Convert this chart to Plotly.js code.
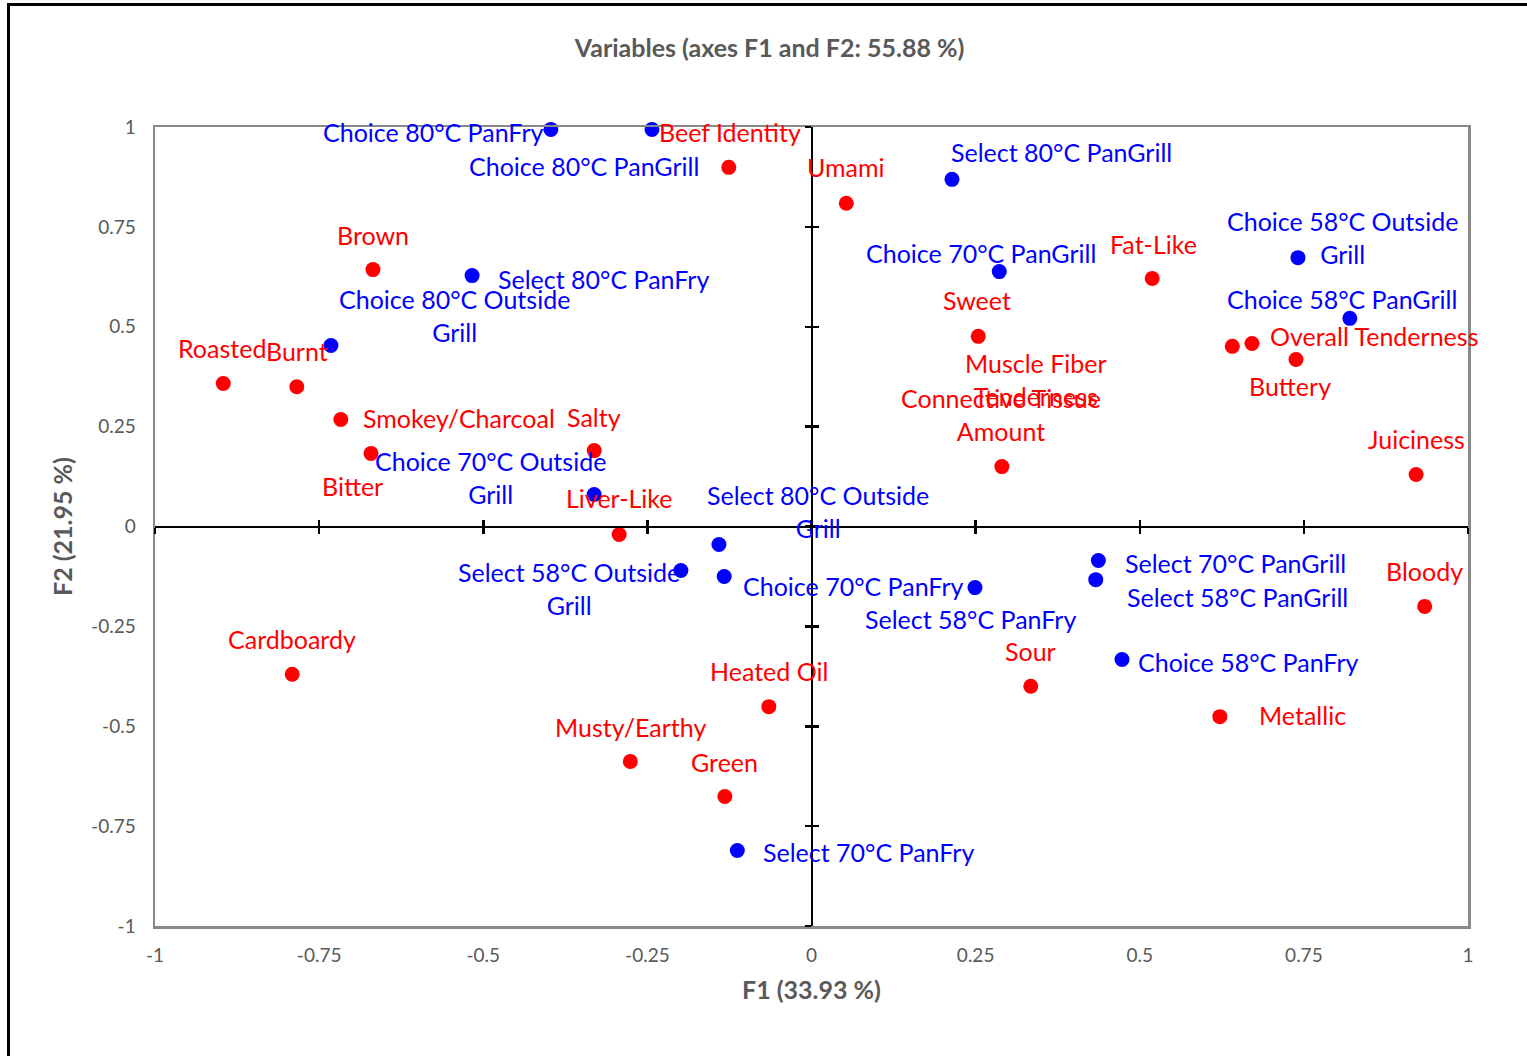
<!DOCTYPE html>
<html>
<head>
<meta charset="utf-8">
<script src="https://cdn.plot.ly/plotly-3.0.1.min.js"></script>
<style>
  html, body { margin: 0; padding: 0; background: #fff; }
  #wrap { position: relative; width: 1527px; height: 1056px; overflow: hidden; }
  #chart { position: absolute; left: 0; top: 0; width: 1527px; height: 1056px; }
  #frame { position: absolute; left: 7px; top: 3px; width: 1530px; height: 1060px;
           border-top: 3px solid #000; border-left: 3px solid #000; pointer-events: none; }
</style>
</head>
<body>
<div id="wrap">
  <div id="chart"></div>
  <div id="frame"></div>
</div>
<script>
// ---------- DATA ----------
// Observations (blue)
const obsNames = [
  "Choice 80°C PanFry", "Choice 80°C PanGrill", "Select 80°C PanGrill", "Choice 70°C PanGrill",
  "Select 80°C PanFry", "Choice 80°C Outside<br>Grill", "Choice 58°C Outside<br>Grill", "Choice 58°C PanGrill",
  "Choice 70°C Outside<br>Grill", "Select 70°C Outside<br>Grill", "Select 58°C Outside<br>Grill", "Select 80°C Outside<br>Grill",
  "Choice 70°C PanFry", "Select 58°C PanFry", "Select 70°C PanGrill", "Select 58°C PanGrill",
  "Choice 58°C PanFry", "Select 70°C PanFry"
];
const obsF1 = [-0.397, -0.243, 0.214, 0.286, -0.517, -0.732, 0.741, 0.820,
               -0.331, -1.012, -0.199, -0.141, -0.133, 0.249, 0.437, 0.433, 0.473, -0.113];
const obsF2 = [0.994, 0.994, 0.869, 0.638, 0.628, 0.453, 0.673, 0.521,
               0.080, -0.135, -0.110, -0.045, -0.125, -0.153, -0.085, -0.133, -0.333, -0.811];

// Variables (red)
const varNames = [
  "Beef Identity", "Umami", "Brown", "Roasted", "Burnt", "Smokey/Charcoal", "Salty", "Bitter",
  "Liver-Like", "Sweet", "Muscle Fiber<br>Tenderness", "Overall Tenderness", "Buttery", "Fat-Like",
  "Juiciness", "Connective Tissue<br>Amount", "Bloody", "Metallic", "Sour", "Heated Oil",
  "Musty/Earthy", "Green", "Cardboardy"
];
const varF1 = [-0.126, 0.053, -0.668, -0.896, -0.784, -0.717, -0.331, -0.671,
               -0.293, 0.254, 0.641, 0.671, 0.738, 0.519, 0.921, 0.290, 0.934, 0.622,
               0.334, -0.065, -0.276, -0.132, -0.791];
const varF2 = [0.899, 0.809, 0.643, 0.358, 0.350, 0.268, 0.190, 0.183,
               -0.020, 0.476, 0.451, 0.458, 0.418, 0.621, 0.130, 0.150, -0.200, -0.476,
               -0.400, -0.451, -0.588, -0.676, -0.370];

const tickVals = [-1, -0.75, -0.5, -0.25, 0, 0.25, 0.5, 0.75, 1];
const tickText = ["-1", "-0.75", "-0.5", "-0.25", "0", "0.25", "0.5", "0.75", "1"];

const chartTitle = "Variables (axes F1 and F2: 55.88 %)";
const xTitle = "F1 (33.93 %)";
const yTitle = "F2 (21.95 %)";

// ---------- LABEL PLACEMENT (style: anchor, x shift px, y shift px) ----------
const obsLabelPos = [
  ["right", -6, -3], ["right", 48, -37], ["left", -2, 27], ["center", -18, 19],
  ["left", 25, -3], ["center", 124, 30], ["center", 45, 20], ["center", -8, 19],
  ["center", -104, 17], ["center", 135, 14], ["center", -112, -18], ["center", 99, 33],
  ["left", 18, -10], ["center", -4, -31], ["left", 26, -3], ["left", 30, -17],
  ["left", 15, -2], ["left", 25, -2]
];
const varLabelPos = [
  ["center", 1, 35], ["center", 0, 36], ["center", 0, 35], ["center", -1, 35], ["center", 0, 36],
  ["left", 21, 1], ["center", 0, 34], ["center", -18, -33], ["center", 0, 36], ["center", -1, 36],
  ["center", -196, -33], ["left", 17, 8], ["center", -6, -26], ["center", 1, 34], ["center", 0, 36],
  ["center", -1, 52], ["center", 0, 35], ["left", 38, 2], ["center", 0, 35], ["center", 0, 36],
  ["center", 0, 34], ["center", 0, 35], ["center", 0, 35]
];

const BLUE = "#0000FF", RED = "#FF0000", GREYTXT = "#595959", FRAME = "#898989";
const LABEL_FONT = "Lato, 'Open Sans', sans-serif";
const LABEL_SIZE = 25;

// ---------- TRACES ----------
const traces = [
  { type: "scatter", mode: "markers", x: obsF1, y: obsF2, name: "Observations",
    marker: { color: BLUE, size: 15 }, cliponaxis: false, hoverinfo: "skip" },
  { type: "scatter", mode: "markers", x: varF1, y: varF2, name: "Variables",
    marker: { color: RED, size: 15 }, cliponaxis: false, hoverinfo: "skip" },
  { type: "scatter", x: [], y: [], xaxis: "x2", yaxis: "y2", showlegend: false, hoverinfo: "skip" },
  { type: "scatter", x: [], y: [], xaxis: "x3", yaxis: "y3", showlegend: false, hoverinfo: "skip" }
];

// ---------- LABELS ----------
function makeLabels(xs, ys, names, pos, color) {
  return names.map((t, i) => ({
    x: xs[i], y: ys[i], xref: "x", yref: "y", text: t, showarrow: false,
    xanchor: pos[i][0], yanchor: "middle", xshift: pos[i][1], yshift: pos[i][2],
    align: "center", borderpad: 0,
    font: { family: LABEL_FONT, size: LABEL_SIZE, color: color }
  }));
}
const annotations = []
  .concat(makeLabels(obsF1, obsF2, obsNames, obsLabelPos, BLUE))
  .concat(makeLabels(varF1, varF2, varNames, varLabelPos, RED));

// ---------- AXES ----------
const tickFont = { family: LABEL_FONT, size: 19, color: GREYTXT };
const titleFont = { family: LABEL_FONT, size: 25, color: GREYTXT, weight: 700 };
const axTitleFont = { family: LABEL_FONT, size: 25, color: GREYTXT, weight: 700 };

const zeroAxisX = (ticksDir) => ({
  overlaying: "x", anchor: "free", position: 0.5, range: [-1, 1],
  tickvals: tickVals, showticklabels: false, ticks: ticksDir, ticklen: 6, tickwidth: 2.5,
  tickcolor: "#000", showline: true, linecolor: "#000", linewidth: 2.5,
  showgrid: false, zeroline: false, fixedrange: true
});
const zeroAxisY = (ticksDir) => ({
  overlaying: "y", anchor: "free", position: 0.5, range: [-1, 1],
  tickvals: tickVals, showticklabels: false, ticks: ticksDir, ticklen: 6, tickwidth: 2.5,
  tickcolor: "#000", showline: true, linecolor: "#000", linewidth: 2.5,
  showgrid: false, zeroline: false, fixedrange: true
});

const layout = {
  width: 1527, height: 1056,
  paper_bgcolor: "rgba(0,0,0,0)", plot_bgcolor: "#fff",
  margin: { l: 155, r: 59, t: 127, b: 130 },
  showlegend: false,
  font: { family: LABEL_FONT },
  title: {
    text: chartTitle, xref: "container", yref: "container",
    x: 0.504, y: 1 - 48 / 1056, xanchor: "center", yanchor: "middle",
    font: titleFont
  },
  xaxis: {
    range: [-1, 1], tickvals: tickVals, ticktext: tickText, tickfont: tickFont,
    ticks: "outside", ticklen: 11, tickcolor: "rgba(0,0,0,0)",
    showline: true, mirror: true, linecolor: FRAME, linewidth: 2.5,
    showgrid: false, zeroline: false, fixedrange: true,
    title: { text: xTitle, font: axTitleFont, standoff: 16 }
  },
  yaxis: {
    range: [-1, 1], tickvals: tickVals, ticktext: tickText, tickfont: tickFont,
    ticks: "outside", ticklen: 13, tickcolor: "rgba(0,0,0,0)",
    showline: true, mirror: true, linecolor: FRAME, linewidth: 2.5,
    showgrid: false, zeroline: false, fixedrange: true,
    title: { text: yTitle, font: axTitleFont, standoff: 12 }
  },
  xaxis2: zeroAxisX("outside"),
  xaxis3: zeroAxisX("inside"),
  yaxis2: zeroAxisY("outside"),
  yaxis3: zeroAxisY("inside"),
  annotations: annotations
};

Plotly.newPlot("chart", traces, layout, { displayModeBar: false, staticPlot: true });
</script>
</body>
</html>
